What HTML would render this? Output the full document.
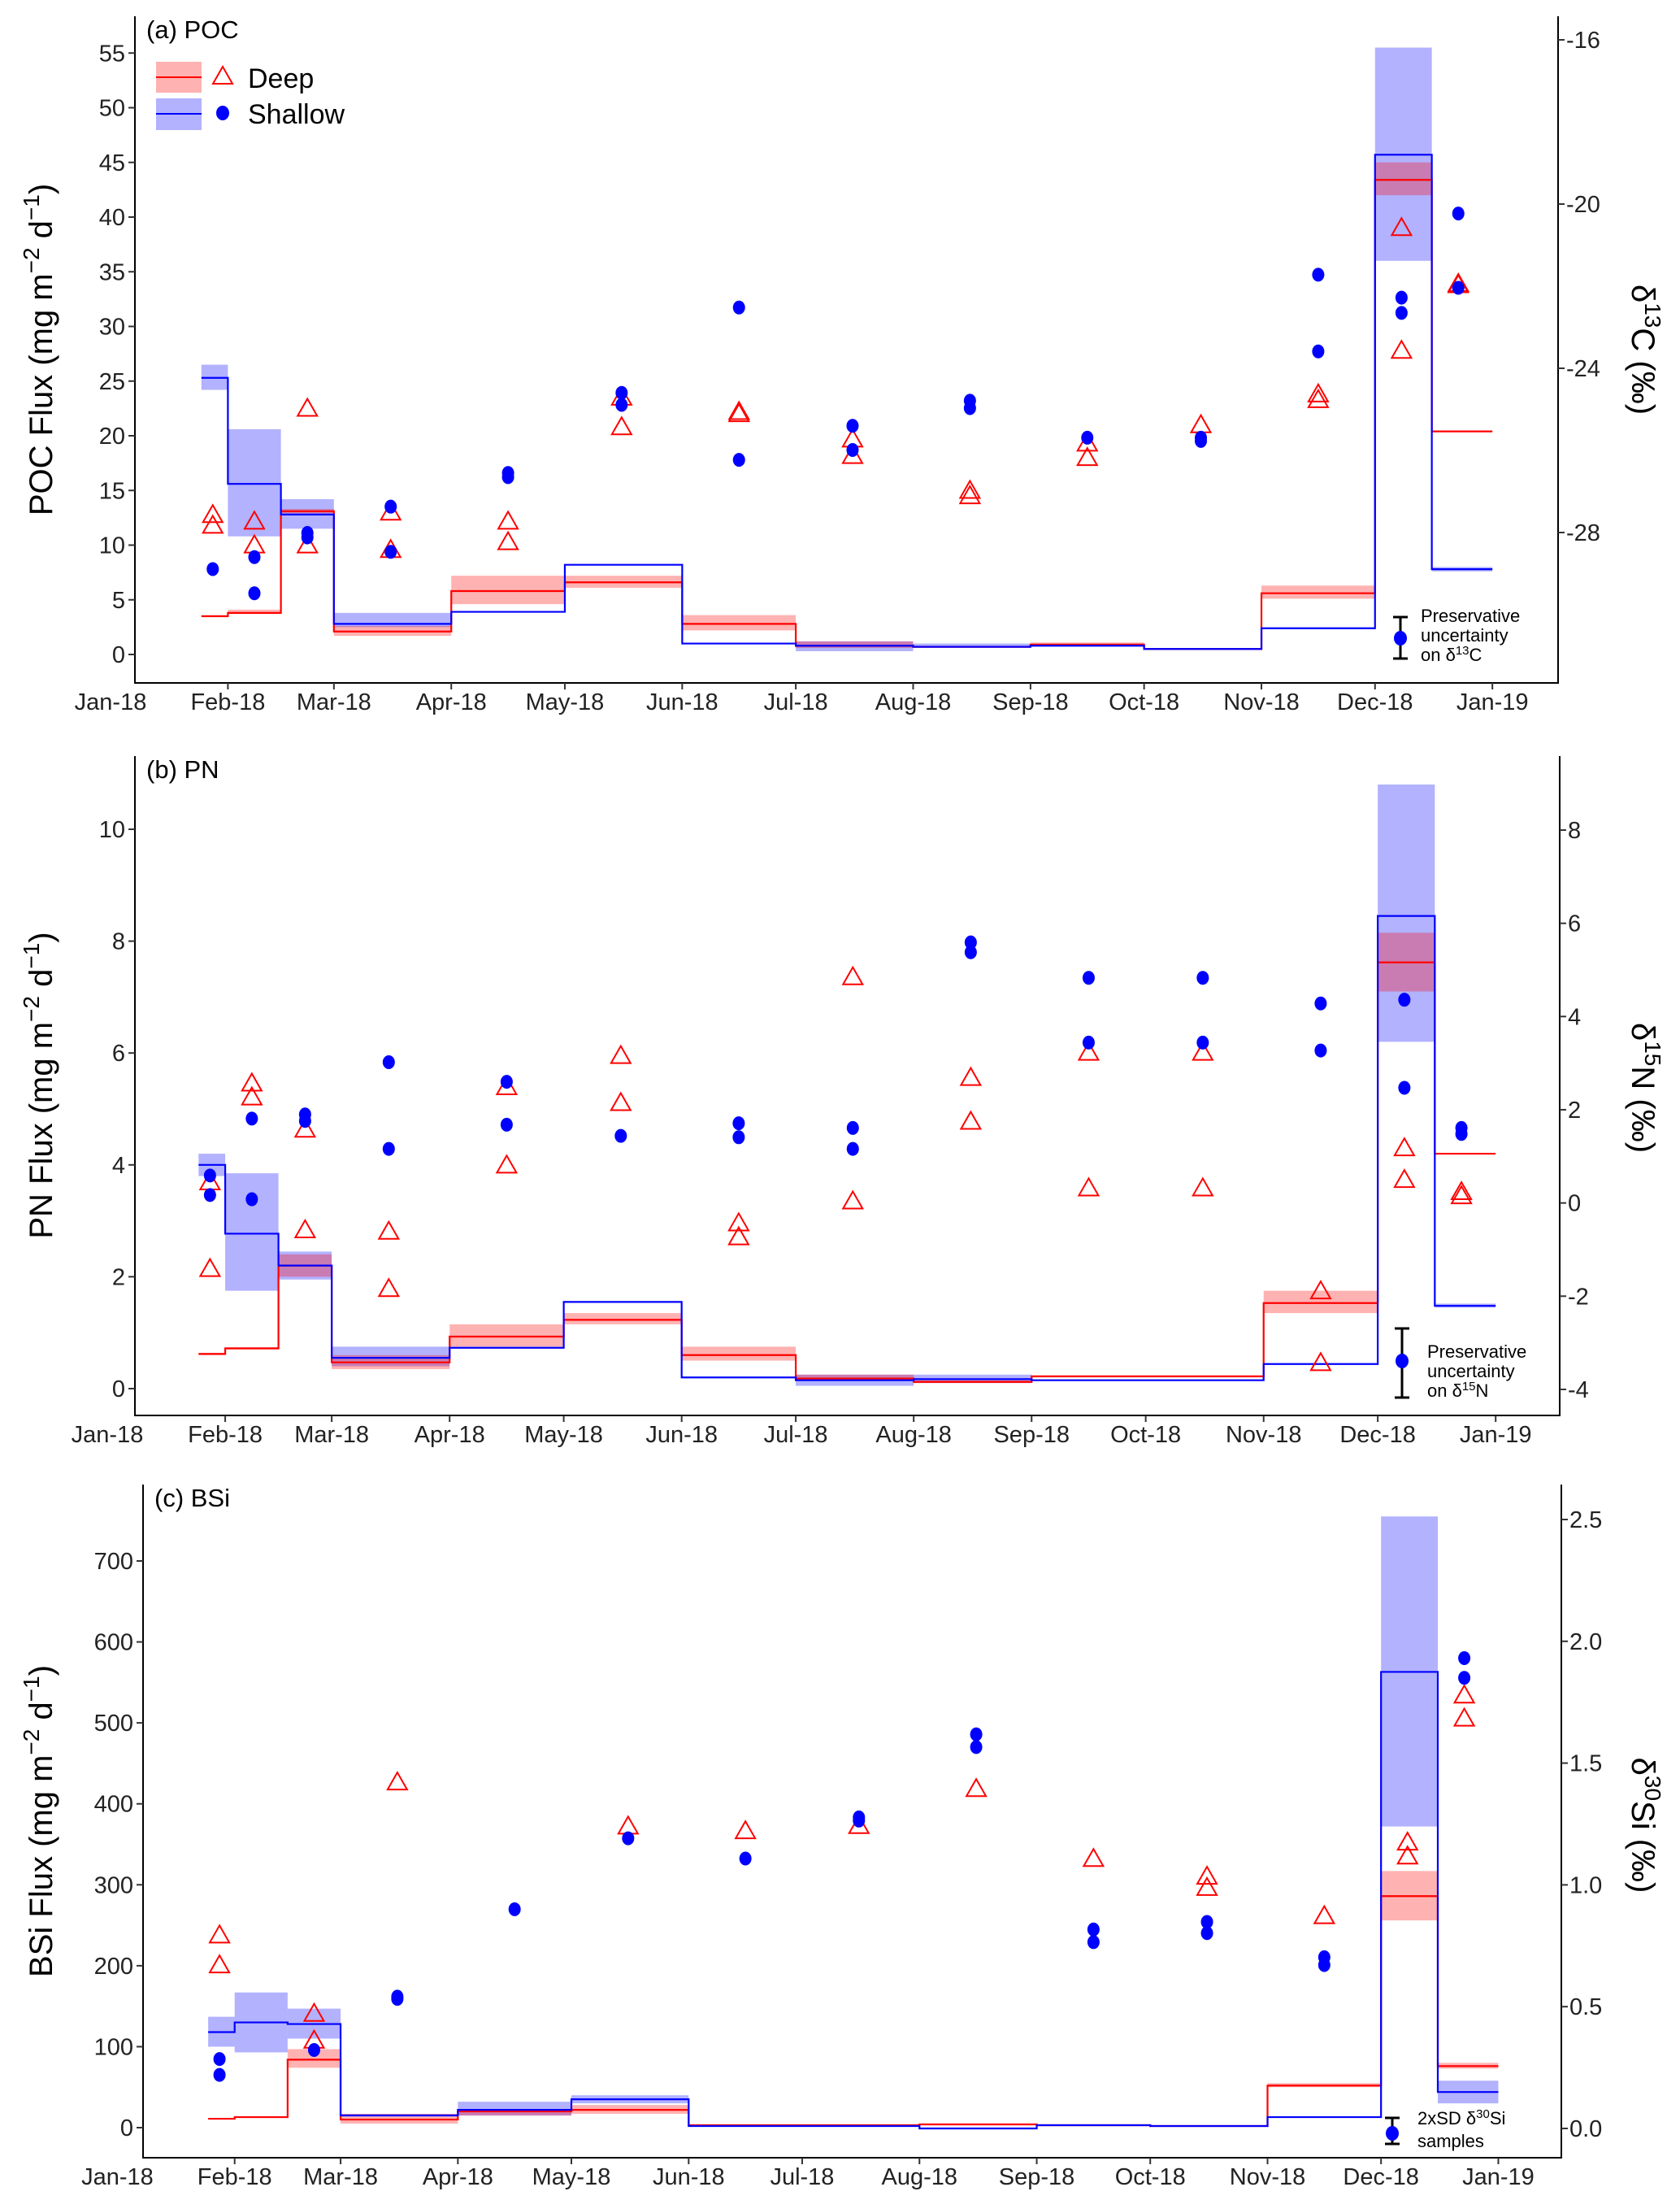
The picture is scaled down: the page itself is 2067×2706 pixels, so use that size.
<!DOCTYPE html>
<html><head><meta charset="utf-8">
<style>
html,body{margin:0;padding:0;background:#fff;}
svg{display:block;font-family:"Liberation Sans",sans-serif;}
</style></head>
<body>
<svg id="chart" width="2067" height="2706" viewBox="0 0 2067 2706" xmlns="http://www.w3.org/2000/svg">
<rect width="2067" height="2706" fill="#fff"/>
</svg>
<script>
// ---- shared data ----
const monthLabels = ["Jan-18","Feb-18","Mar-18","Apr-18","May-18","Jun-18","Jul-18","Aug-18","Sep-18","Oct-18","Nov-18","Dec-18","Jan-19"];
const monthDays = [0,31,59,90,120,151,181,212,243,273,304,334,365];
const intStart = [24,31,45,59,90,120,151,181,212,243,273,304,334,349];
const intEnd   = [31,45,59,90,120,151,181,212,243,273,304,334,349,365];

// ---- POC ----
const pocShallow = [25.3,15.6,12.8,2.8,3.9,8.2,1.0,0.8,0.7,0.8,0.5,2.4,45.7,7.8];
const pocShallowLo = [24.2,10.8,11.5,2.5,3.9,8.2,1.0,0.3,0.6,0.8,0.5,2.4,36,7.6];
const pocShallowHi = [26.5,20.6,14.2,3.8,3.9,8.2,1.0,1.2,1.0,0.8,0.5,2.4,55.5,8.0];
const pocDeep = [3.5,3.8,13.1,2.1,5.8,6.6,2.8,0.8,0.7,0.9,0.5,5.6,43.4,20.4];
const pocDeepLo = [3.4,3.7,12.9,1.7,4.6,6.1,2.2,0.6,0.6,0.8,0.5,5.1,42,20.4];
const pocDeepHi = [3.6,4.1,13.3,2.6,7.2,7.2,3.6,1.2,0.8,1.1,0.5,6.3,45,20.4];
const c13DeepDay = [27,27,38,38,52,52,74,74,105,105,135,135,166,166,196,196,227,227,258,258,288,319,319,341,341,356,356];
const c13Deep = [-27.59,-27.85,-27.75,-28.33,-25.0,-28.33,-27.53,-28.44,-27.75,-28.25,-24.73,-25.45,-25.08,-25.13,-25.75,-26.15,-27.0,-27.13,-25.85,-26.2,-25.4,-24.65,-24.79,-20.6,-23.59,-21.96,-21.99];
const c13ShallowDay = [27,38,38,52,52,74,74,105,105,135,135,166,166,196,196,227,227,258,288,288,319,319,341,341,356,356];
const c13Shallow = [-28.89,-28.6,-29.48,-28.01,-28.12,-27.37,-28.47,-26.55,-26.65,-24.6,-24.89,-22.52,-26.23,-25.4,-25.99,-24.79,-24.97,-25.69,-25.69,-25.77,-21.72,-23.59,-22.28,-22.65,-20.23,-22.04];

// ---- PN ----
const pnShallow = [4.0,2.77,2.2,0.55,0.73,1.55,0.2,0.15,0.17,0.15,0.15,0.44,8.45,1.48];
const pnShallowLo = [3.8,1.75,1.95,0.4,0.73,1.55,0.2,0.05,0.1,0.15,0.15,0.44,6.2,1.45];
const pnShallowHi = [4.2,3.85,2.45,0.75,0.73,1.55,0.2,0.25,0.25,0.15,0.15,0.44,10.8,1.52];
const pnDeep = [0.62,0.72,2.2,0.47,0.93,1.23,0.6,0.18,0.12,0.22,0.22,1.53,7.62,4.2];
const pnDeepLo = [0.6,0.7,2.0,0.35,0.75,1.15,0.5,0.15,0.1,0.2,0.2,1.35,7.1,4.2];
const pnDeepHi = [0.64,0.74,2.4,0.6,1.15,1.35,0.75,0.25,0.15,0.22,0.22,1.75,8.15,4.2];
const n15DeepDay = [27,27,38,38,52,52,74,74,105,105,135,135,166,166,196,196,227,227,258,258,288,288,319,319,341,341,356,356];
const n15Deep = [0.43,-1.43,2.55,2.25,1.56,-0.6,-0.63,-1.86,2.47,0.79,3.14,2.13,-0.45,-0.75,4.83,0.02,2.67,1.73,3.21,0.3,3.21,0.3,-1.91,-3.45,1.16,0.48,0.22,0.13];
const n15ShallowDay = [27,27,38,38,52,52,74,74,105,105,135,166,166,196,196,227,227,258,258,288,288,319,319,341,341,356,356];
const n15Shallow = [0.59,0.17,1.81,0.08,1.9,1.76,3.02,1.16,2.6,1.68,1.44,1.71,1.41,1.61,1.16,5.59,5.38,4.83,3.44,4.83,3.44,4.28,3.27,4.36,2.47,1.61,1.48];

// ---- BSi ----
const bsiShallow = [118,130,128,15,22,35,2,2,-1,3,2,13,563,44];
const bsiShallowLo = [100,93,110,14,15,30,2,2,-2,3,2,13,372,30];
const bsiShallowHi = [137,167,147,17,32,40,2,2,0,3,2,13,755,58];
const bsiDeep = [11,13,84,10,20,22,3,3,4,3,2,52,286,76];
const bsiDeepLo = [10,12,74,5,15,17,2,2,3,3,2,50,256,73];
const bsiDeepHi = [12,14,97,17,23,28,4,4,5,3,2,55,317,80];
const si30DeepDay = [27,27,52,52,74,135,166,196,227,258,288,288,319,341,341,356,356];
const si30Deep = [0.79,0.667,0.468,0.358,1.418,1.237,1.218,1.239,1.391,1.104,1.031,0.985,0.869,1.171,1.114,1.775,1.68];
const si30ShallowDay = [27,27,52,74,74,105,135,166,196,196,227,227,258,258,288,288,319,319,356,356];
const si30Shallow = [0.285,0.22,0.322,0.541,0.532,0.9,1.191,1.108,1.277,1.264,1.618,1.566,0.817,0.765,0.848,0.802,0.703,0.671,1.931,1.85];

const NS = "http://www.w3.org/2000/svg";
const svg = document.getElementById('chart');
function mk(tag, attrs, parent){
  const e = document.createElementNS(NS, tag);
  for (const k in attrs) e.setAttribute(k, attrs[k]);
  (parent||svg).appendChild(e);
  return e;
}

function drawPanel(cfg){
  const g = mk('g', {});
  
  
  const X = d => cfg.x0 + d*cfg.pxDay;
  const Y = v => cfg.yZero - v*cfg.pxUnit;
  const YR = d => cfg.rY(d);

  // bands
  function bands(lo, hi, color, nm){
    for (let i=0;i<lo.length;i++){
      if (hi[i] - lo[i] <= 0) continue;
      const r = mk('rect', {x:X(intStart[i]), y:Y(hi[i]), width:X(intEnd[i])-X(intStart[i]), height:Y(lo[i])-Y(hi[i]), fill:color, 'fill-opacity':0.3}, g);
      
      
    }
  }
  bands(cfg.sLo, cfg.sHi, '#0000ff', 'shallow-uncertainty-band');
  bands(cfg.dLo, cfg.dHi, '#ff0000', 'deep-uncertainty-band');

  function step(vals, color, nm){
    let d = '';
    for (let i=0;i<vals.length;i++){
      d += (i===0?'M':'L') + X(intStart[i]) + ',' + Y(vals[i]) + 'L' + X(intEnd[i]) + ',' + Y(vals[i]);
    }
    const p = mk('path', {d:d, fill:'none', stroke:color, 'stroke-width':2.2}, g);
    
    
  }
  step(cfg.deep, '#ff0000', 'deep-flux-line');
  step(cfg.shallow, '#0000ff', 'shallow-flux-line');

  // points
  for (let i=0;i<cfg.tDay.length;i++){
    const cx = X(cfg.tDay[i]), cy = YR(cfg.tVal[i]);
    const t = mk('polygon', {points:`${cx},${cy-13} ${cx-12},${cy+8} ${cx+12},${cy+8}`, fill:'none', stroke:'#ff0000', 'stroke-width':2}, g);
    
    
  }
  for (let i=0;i<cfg.cDay.length;i++){
    const c = mk('ellipse', {cx:X(cfg.cDay[i]), cy:YR(cfg.cVal[i]), rx:7.5, ry:8.5, fill:'#0000ff'}, g);
    
    
  }

  // axes
  const ax = mk('path', {d:`M${cfg.left},${cfg.top}V${cfg.bottom}H${cfg.right}V${cfg.top}`, fill:'none', stroke:'#000', 'stroke-width':2}, g);
  
  

  for (let i=0;i<monthLabels.length;i++){
    const x = X(monthDays[i]);
    if (x >= cfg.left-1) mk('line', {x1:x, x2:x, y1:cfg.bottom, y2:cfg.bottom+8, stroke:'#333', 'stroke-width':2}, g);
    const t = mk('text', {x:x, y:cfg.bottom+33, 'text-anchor':'middle', 'font-size':29, fill:'#222'}, g);
    t.textContent = monthLabels[i];
    
    
  }
  for (const v of cfg.lTicks){
    const y = Y(v);
    mk('line', {x1:cfg.left-8, x2:cfg.left, y1:y, y2:y, stroke:'#333', 'stroke-width':2}, g);
    const t = mk('text', {x:cfg.left-12, y:y+10, 'text-anchor':'end', 'font-size':29, fill:'#222'}, g);
    t.textContent = v;
    
    
  }
  for (const v of cfg.rTicks){
    const y = YR(v);
    mk('line', {x1:cfg.right, x2:cfg.right+8, y1:y, y2:y, stroke:'#333', 'stroke-width':2}, g);
    const t = mk('text', {x:cfg.right+10, y:y+10, 'text-anchor':'start', 'font-size':29, fill:'#222'}, g);
    t.textContent = cfg.rFmt(v);
    
    
  }
  // titles
  const pt = mk('text', {x:cfg.left+14, y:cfg.top+27, 'font-size':31, fill:'#000'}, g);
  pt.textContent = cfg.title;
  
  

  const lt = mk('text', {transform:`translate(64,${cfg.lTitleY}) rotate(-90)`, 'text-anchor':'middle', 'font-size':40, fill:'#000'}, g);
  lt.innerHTML = cfg.lTitle + ' Flux (mg m<tspan dy="-16" font-size="28">−2</tspan><tspan dy="16"> d</tspan><tspan dy="-16" font-size="28">−1</tspan><tspan dy="16">)</tspan>';
  
  

  const rt = mk('text', {transform:`translate(2008,${cfg.rTitleY}) rotate(90)`, 'text-anchor':'middle', 'font-size':40, fill:'#000'}, g);
  rt.innerHTML = 'δ<tspan dy="-16" font-size="28">' + cfg.iso[0] + '</tspan><tspan dy="16">' + cfg.iso[1] + ' (‰)</tspan>';
  
  

  // annotation
  const a = cfg.ann;
  const eb = mk('path', {d:`M${a.x-9},${a.top}H${a.x+9}M${a.x},${a.top}V${a.bot}M${a.x-9},${a.bot}H${a.x+9}`, stroke:'#000', 'stroke-width':3, fill:'none'}, g);
  
  
  mk('ellipse', {cx:a.x, cy:a.cy, rx:8, ry:9, fill:'#0000ff'}, g);
  a.lines.forEach((ln, i) => {
    const t = mk('text', {x:a.tx, y:a.ty[i]+8, 'font-size':22, fill:'#000'}, g);
    t.innerHTML = ln;
    
    
  });
}

drawPanel({name:'panel-a-poc', title:'(a) POC', x0:136, pxDay:4.658, yZero:805, pxUnit:13.45,
  rY:d=>49+(-16-d)*50.5, left:166, right:1917, top:20, bottom:840,
  shallow:pocShallow, sLo:pocShallowLo, sHi:pocShallowHi, deep:pocDeep, dLo:pocDeepLo, dHi:pocDeepHi,
  tDay:c13DeepDay, tVal:c13Deep, cDay:c13ShallowDay, cVal:c13Shallow,
  lTicks:[0,5,10,15,20,25,30,35,40,45,50,55], rTicks:[-16,-20,-24,-28], rFmt:v=>String(v).replace('-','-'),
  lTitle:'POC', lTitleY:430, rTitleY:430, iso:['13','C'],
  ann:{x:1723, top:759, bot:810, cy:785, tx:1748, ty:[757,781,805], lines:['Preservative','uncertainty','on δ<tspan dy="-8" font-size="15">13</tspan><tspan dy="8">C</tspan>']}});

drawPanel({name:'panel-b-pn', title:'(b) PN', x0:132, pxDay:4.68, yZero:1708, pxUnit:68.8,
  rY:d=>1021+(8-d)*57.33, left:166, right:1919, top:930, bottom:1741,
  shallow:pnShallow, sLo:pnShallowLo, sHi:pnShallowHi, deep:pnDeep, dLo:pnDeepLo, dHi:pnDeepHi,
  tDay:n15DeepDay, tVal:n15Deep, cDay:n15ShallowDay, cVal:n15Shallow,
  lTicks:[0,2,4,6,8,10], rTicks:[-4,-2,0,2,4,6,8], rFmt:v=>String(v),
  lTitle:'PN', lTitleY:1335, rTitleY:1338, iso:['15','N'],
  ann:{x:1725, top:1634, bot:1719, cy:1674, tx:1756, ty:[1662,1686,1710], lines:['Preservative','uncertainty','on δ<tspan dy="-8" font-size="15">15</tspan><tspan dy="8">N</tspan>']}});

drawPanel({name:'panel-c-bsi', title:'(c) BSi', x0:144.4, pxDay:4.655, yZero:2617, pxUnit:0.9957,
  rY:d=>2618-d*299.6, left:176, right:1921, top:1826, bottom:2654,
  shallow:bsiShallow, sLo:bsiShallowLo, sHi:bsiShallowHi, deep:bsiDeep, dLo:bsiDeepLo, dHi:bsiDeepHi,
  tDay:si30DeepDay, tVal:si30Deep, cDay:si30ShallowDay, cVal:si30Shallow,
  lTicks:[0,100,200,300,400,500,600,700], rTicks:[0,0.5,1,1.5,2,2.5], rFmt:v=>v.toFixed(1),
  lTitle:'BSi', lTitleY:2240, rTitleY:2245, iso:['30','Si'],
  ann:{x:1713, top:2605, bot:2637, cy:2624, tx:1744, ty:[2605,2633], lines:['2xSD δ<tspan dy="-8" font-size="15">30</tspan><tspan dy="8">Si</tspan>','samples']}});

// legend (panel a)
const lg = mk('g', {});


mk('rect', {x:192, y:76, width:56, height:38, fill:'#ff0000', 'fill-opacity':0.3}, lg);
mk('line', {x1:192, x2:248, y1:95, y2:95, stroke:'#ff0000', 'stroke-width':2}, lg);
mk('polygon', {points:'274,82 262,103 286,103', fill:'none', stroke:'#ff0000', 'stroke-width':2}, lg);
const ld = mk('text', {x:305, y:108, 'font-size':34}, lg);
ld.textContent = 'Deep';


mk('rect', {x:192, y:121, width:56, height:39, fill:'#0000ff', 'fill-opacity':0.3}, lg);
mk('line', {x1:192, x2:248, y1:140, y2:140, stroke:'#0000ff', 'stroke-width':2}, lg);
mk('ellipse', {cx:274, cy:139, rx:8, ry:9, fill:'#0000ff'}, lg);
const ls = mk('text', {x:305, y:152, 'font-size':34}, lg);
ls.textContent = 'Shallow';


</script>
</body></html>
